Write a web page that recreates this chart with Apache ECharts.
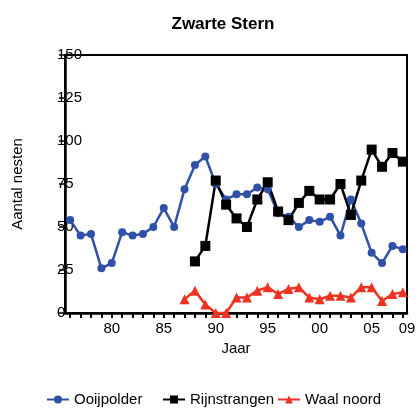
<!DOCTYPE html>
<html>
  <head>
    <meta charset="utf-8" />
    <title>Zwarte Stern</title>
    <script src="https://cdn.jsdelivr.net/npm/echarts/dist/echarts.min.js"></script>
  </head>
  <body style="margin: 0">
    <div id="main" style="width: 420px; height: 408px"></div>
    <script type="text/javascript">
      var myChart = echarts.init(document.getElementById('main'));

      // jaren en aantallen nesten
      var jaren = [];
      for (var j = 1976; j <= 2008; j++) jaren.push(j);

      var ooijpolder = [54, 45, 46, 26, 29, 47, 45, 46, 50, 61, 50, 72, 86, 91,
        75, 66, 69, 69, 73, 72, 58, 56, 50, 54, 53, 56, 45, 66, 52, 35, 29, 39, 37];
      var rijnstrangen = [30, 39, 77, 63, 55, 50, 66, 76, 59, 54, 64, 71, 66, 66,
        75, 57, 77, 95, 85, 93, 88];
      var waalNoord = [8, 13, 5, 0, 0, 9, 9, 13, 15, 11, 14, 15, 9, 8, 10, 10, 9,
        15, 15, 7, 11, 12];

      var labelJaren = [1980, 1985, 1990, 1995, 2000, 2005, 2008.4];

      function paren(start, waarden) {
        return waarden.map(function (v, i) {
          return [start + i, v];
        });
      }

      var font = 'Liberation Sans, Arial, sans-serif';

      function legenda(naam, left) {
        return {
          left: left,
          top: 392,
          itemWidth: 22,
          itemHeight: 10,
          padding: 0,
          textStyle: { fontFamily: font, fontSize: 15, color: '#000' },
          itemGap: 5,
          data: [naam]
        };
      }

      var option = {
        animation: false,
        title: {
          text: 'Zwarte Stern',
          left: 218,
          textAlign: 'center',
          top: 11,
          textStyle: { fontFamily: font, fontSize: 17, fontWeight: 'bold', color: '#000' }
        },
        legend: [
          legenda('Ooijpolder', 46),
          legenda('Rijnstrangen', 162),
          legenda('Waal noord', 277)
        ],
        grid: {
          left: 65,
          right: 13,
          top: 55,
          bottom: 95,
          show: true,
          borderColor: '#000',
          borderWidth: 2
        },
        xAxis: {
          type: 'value',
          min: 1975.5,
          max: 2008.4,
          name: 'Jaar',
          nameLocation: 'middle',
          nameGap: 26,
          nameTextStyle: { fontFamily: font, fontSize: 15, color: '#000' },
          splitLine: { show: false },
          axisLine: { lineStyle: { color: '#000', width: 2.5 } },
          axisTick: {
            length: 5,
            lineStyle: { color: '#000', width: 2 },
            customValues: jaren
          },
          axisLabel: {
            customValues: labelJaren,
            margin: 8,
            fontFamily: font,
            fontSize: 15,
            color: '#000',
            formatter: function (v) {
              var y = v > 2008 ? 2009 : Math.round(v);
              return String(y).slice(2);
            }
          }
        },
        yAxis: {
          type: 'value',
          min: 0,
          max: 150,
          interval: 25,
          name: 'Aantal nesten',
          nameLocation: 'middle',
          nameGap: 40,
          nameTextStyle: { fontFamily: font, fontSize: 15, color: '#000' },
          splitLine: { show: false },
          axisLine: { show: true, lineStyle: { color: '#000', width: 2.5 } },
          axisTick: { show: true, length: 6, lineStyle: { color: '#000', width: 1.5 } },
          axisLabel: {
            align: 'left',
            margin: 8,
            fontFamily: font,
            fontSize: 15,
            color: '#000'
          }
        },
        series: [
          {
            name: 'Ooijpolder',
            type: 'line',
            data: paren(1976, ooijpolder),
            symbol: 'circle',
            symbolSize: 8,
            lineStyle: { color: '#3050a8', width: 2.5 },
            itemStyle: { color: '#3050a8' }
          },
          {
            name: 'Rijnstrangen',
            type: 'line',
            data: paren(1988, rijnstrangen),
            symbol: 'rect',
            symbolSize: 10,
            lineStyle: { color: '#000', width: 2.5 },
            itemStyle: { color: '#000' }
          },
          {
            name: 'Waal noord',
            type: 'line',
            data: paren(1987, waalNoord),
            symbol: 'triangle',
            symbolSize: 10,
            lineStyle: { color: '#ee3322', width: 2.5 },
            itemStyle: { color: '#ee3322' }
          }
        ]
      };

      myChart.setOption(option);
    </script>
  </body>
</html>
